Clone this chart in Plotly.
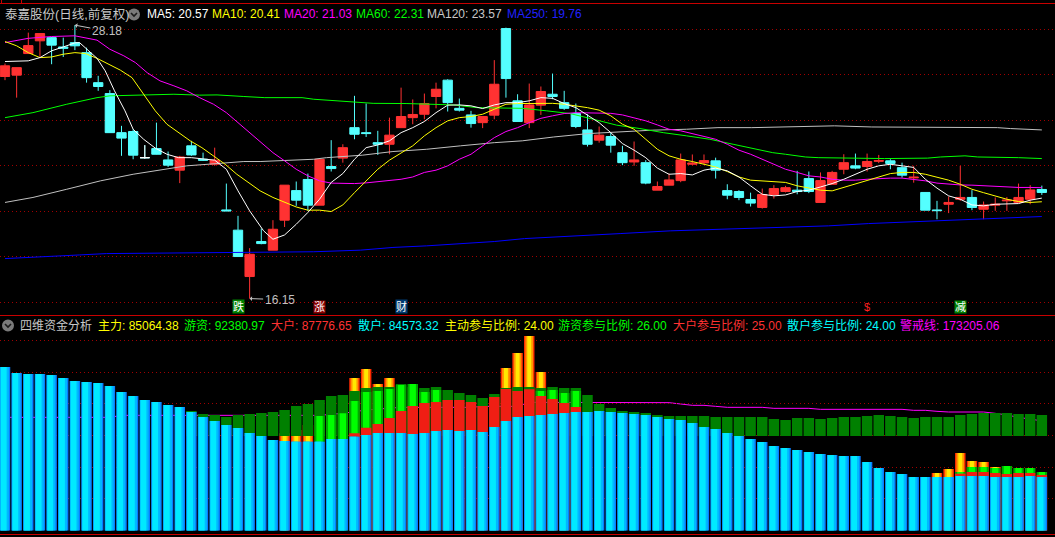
import plotly.graph_objects as go

W, H = 1055, 537

# ---------------- main chart data (price) ----------------
open_ = [25.92, 25.98, 26.93, 27.49, 27.63, 27.22, 27.41, 26.97, 25.65, 25.17,
         23.45, 23.50, 22.35, 22.75, 22.25, 21.80, 22.87, 22.28, 22.06, 20.05,
         19.16, 17.12, 18.66, 18.28, 19.60, 20.90, 21.39, 20.26, 21.96, 22.33,
         23.67, 23.45, 23.01, 22.94, 23.67, 24.11, 24.26, 25.04, 25.76, 24.52,
         24.23, 23.89, 24.22, 28.03, 24.85, 23.89, 24.66, 25.14, 24.77, 24.29,
         23.57, 23.12, 23.28, 22.57, 22.16, 22.13, 20.92, 21.14, 21.34, 22.06,
         22.12, 22.21, 20.90, 20.86, 20.51, 20.16, 20.73, 20.86, 20.92, 21.43,
         20.38, 21.18, 21.84, 21.99, 21.96, 22.19, 22.21, 21.91, 21.46, 20.82,
         20.05, 20.30, 20.52, 20.60, 20.08, 20.26, 20.45, 20.38, 20.52, 20.95]
close = [26.39, 26.31, 27.28, 27.81, 27.30, 27.16, 27.27, 25.87, 25.48, 23.45,
         23.21, 22.46, 22.35, 22.50, 22.02, 22.38, 22.47, 22.24, 22.24, 20.01,
         18.00, 18.10, 18.57, 19.20, 21.14, 20.48, 20.26, 22.28, 21.87, 22.79,
         23.38, 23.41, 22.94, 23.34, 24.16, 24.25, 24.73, 25.36, 24.77, 24.44,
         23.85, 24.16, 25.58, 25.83, 23.94, 24.67, 25.26, 25.04, 24.52, 23.72,
         22.94, 23.34, 22.90, 22.13, 22.25, 21.23, 21.08, 21.37, 22.25, 22.11,
         22.22, 21.80, 20.70, 20.60, 20.35, 20.73, 20.99, 21.03, 20.86, 20.86,
         21.34, 21.70, 22.13, 21.89, 22.18, 22.22, 22.09, 21.58, 21.49, 20.04,
         20.02, 20.38, 20.60, 20.16, 20.27, 20.30, 20.48, 20.60, 20.93, 20.82]
high = [26.49, 26.31, 27.85, 27.81, 27.66, 27.63, 28.18, 27.19, 25.95, 25.32,
        23.75, 23.60, 22.90, 23.89, 22.62, 22.43, 23.09, 22.57, 22.79, 21.21,
        19.79, 18.37, 19.23, 19.60, 21.14, 21.30, 21.65, 22.28, 23.12, 22.94,
        25.07, 24.73, 23.53, 24.11, 25.43, 24.91, 25.17, 25.65, 25.80, 24.95,
        24.41, 24.16, 26.64, 28.07, 25.14, 25.61, 25.48, 26.05, 25.29, 24.73,
        24.26, 23.72, 23.45, 22.87, 23.06, 22.24, 21.30, 21.65, 22.53, 22.49,
        22.49, 22.35, 21.18, 20.92, 20.81, 20.99, 21.14, 21.11, 21.77, 21.74,
        21.70, 21.77, 22.50, 22.53, 22.53, 22.47, 22.28, 22.13, 21.99, 20.82,
        20.45, 20.64, 21.99, 20.92, 20.42, 20.60, 20.62, 21.21, 21.14, 21.12]
low = [25.76, 24.99, 26.93, 26.78, 26.46, 26.78, 27.08, 25.65, 25.29, 23.44,
       22.43, 22.28, 22.31, 22.49, 21.94, 21.23, 22.43, 22.21, 21.99, 20.00,
       18.00, 16.15, 18.54, 18.28, 19.30, 20.23, 20.01, 20.26, 21.74, 22.13,
       23.16, 23.26, 22.47, 22.50, 23.67, 23.82, 24.04, 24.52, 24.38, 24.38,
       23.67, 23.65, 24.04, 24.99, 23.94, 23.65, 24.23, 24.92, 24.45, 23.65,
       22.84, 23.01, 22.57, 22.02, 21.99, 21.18, 20.92, 21.14, 21.27, 22.02,
       22.05, 21.43, 20.52, 20.48, 20.20, 20.11, 20.55, 20.82, 20.74, 20.79,
       20.38, 21.18, 21.62, 21.84, 21.74, 22.11, 21.84, 21.47, 21.25, 20.04,
       19.64, 19.91, 20.45, 20.04, 19.64, 20.01, 20.01, 20.38, 20.30, 20.71]
doji_white = [12]

# moving averages: (bar position, value)
ma5_x = [0, 2, 3, 4, 5, 6, 6.4, 7.2, 7.9, 8.6, 9.4, 10.3, 11, 11.9, 12.9, 13.9, 14.9, 16, 17, 18,
         19, 20, 21, 22.2, 23, 24, 25, 26, 27, 28, 29, 30, 31, 32, 33, 34, 35, 36, 37, 38, 39,
         40, 41, 42, 43, 44, 45, 46, 47, 48, 49, 50, 51, 52, 53, 54, 55, 56, 57, 58, 59, 60,
         61, 62, 63, 64, 65, 66, 67, 68, 69, 70, 71, 72, 73, 74, 75, 76, 77, 78, 79, 80, 81,
         82, 83, 84, 85, 86, 87, 88, 89]
ma5_y = [26.58, 26.61, 26.75, 27.05, 27.22, 27.40, 27.41, 27.05, 26.72, 26.17, 25.29, 24.41,
         23.60, 23.16, 22.77, 22.50, 22.35, 22.35, 22.28, 22.24, 21.84, 20.89, 20.01, 19.13,
         18.76, 18.95, 19.42, 19.94, 20.52, 21.26, 21.65, 22.28, 22.79, 22.91, 23.09, 23.45,
         23.67, 23.94, 24.33, 24.66, 24.67, 24.63, 24.51, 24.67, 24.77, 24.77, 24.85, 24.99,
         24.96, 24.73, 24.55, 24.23, 23.89, 23.45, 22.97, 22.68, 22.35, 21.89, 21.62, 21.65,
         21.59, 21.80, 21.89, 21.77, 21.50, 21.11, 20.74, 20.67, 20.71, 20.86, 20.92, 21.06,
         21.21, 21.40, 21.62, 21.84, 21.99, 22.06, 21.99, 21.92, 21.40, 21.01, 20.67, 20.52,
         20.27, 20.23, 20.30, 20.33, 20.33, 20.48, 20.57]
ma10_x = [0, 1, 2, 3, 4, 5, 6, 6.9, 7.9, 8.9, 9.9, 10.9, 11.9, 12.9, 13.9, 14.9, 15.9, 16.9,
          17.9, 18.9, 19.9, 20.9, 21.9] + list(range(23, 90))
ma10_y = [27.46, 27.27, 26.97, 26.75, 26.78, 26.90, 26.97, 26.93, 26.72, 26.46, 26.20, 25.87,
          25.14, 24.41, 23.82, 23.45, 23.09, 22.79, 22.43, 22.06, 21.62, 21.26, 20.89,
          20.60, 20.38, 20.18, 20.04, 20.04, 19.98, 20.27, 20.81, 21.33, 21.84, 22.24, 22.57,
          22.87, 23.31, 23.67, 23.97, 24.11, 24.16, 24.26, 24.48, 24.70, 24.73, 24.73, 24.74,
          24.74, 24.70, 24.63, 24.55, 24.44, 24.19, 23.82, 23.60, 23.16, 22.72, 22.43, 22.28,
          22.18, 22.06, 21.94, 21.74, 21.50, 21.36, 21.33, 21.30, 21.26, 21.11, 21.01, 20.92,
          20.89, 21.04, 21.18, 21.36, 21.50, 21.65, 21.70, 21.70, 21.62, 21.50, 21.36, 21.18,
          20.96, 20.81, 20.67, 20.52, 20.42, 20.38, 20.41]
ma20_x = [0, 2, 4, 6, 7.9, 9, 10.2, 11.2, 12.2, 13.3, 14.5, 15.6, 16.7, 17.9, 19, 20, 21, 22.2] \
    + list(range(23, 90))
ma20_y = [27.41, 27.60, 27.68, 27.71, 27.52, 27.12, 26.83, 26.53, 26.09, 25.73, 25.51, 25.29,
          24.99, 24.70, 24.33, 23.89, 23.45, 22.94,
          22.57, 22.21, 21.84, 21.55, 21.33, 21.23, 21.21, 21.21, 21.24, 21.30, 21.33, 21.40,
          21.50, 21.70, 21.80, 21.99, 22.28, 22.50, 22.87, 23.23, 23.50, 23.67, 23.89, 24.08,
          24.19, 24.29, 24.33, 24.33, 24.32, 24.30, 24.23, 24.11, 23.97, 23.79, 23.60, 23.53,
          23.41, 23.31, 23.16, 22.94, 22.68, 22.50, 22.28, 22.09, 21.84, 21.70, 21.55, 21.50,
          21.40, 21.36, 21.36, 21.40, 21.43, 21.45, 21.45, 21.40, 21.33, 21.23, 21.18, 21.15,
          21.14, 21.11, 21.08, 21.06, 21.04, 21.04, 21.03]
ma60_x = [0, 2.4, 5.3, 7.9, 9, 12.2, 14.5, 16.7, 18.2, 20.5, 22.3, 25.5, 26.5, 28.5, 29.9, 31.6,
          34.5, 36.8, 38.5, 40.5, 42.5, 44.4, 46.5, 48.5, 50.5, 52.5, 54.5, 56.5, 58.5, 60.5,
          62.5, 64.5, 65.9, 67, 68.7, 69.8, 72.7, 75.5, 79.2, 80.3, 82.4, 83.5, 87, 89]
ma60_y = [24.11, 24.33, 24.70, 24.99, 25.07, 25.11, 25.14, 25.10, 25.11, 25.04, 24.99, 24.99,
          24.92, 24.85, 24.80, 24.74, 24.73, 24.70, 24.67, 24.55, 24.55, 24.52, 24.41, 24.29,
          24.04, 23.78, 23.63, 23.45, 23.31, 23.16, 22.94, 22.72, 22.57, 22.50, 22.38, 22.35,
          22.33, 22.31, 22.33, 22.38, 22.43, 22.38, 22.35, 22.31]
ma120_x = [0, 2.4, 5.3, 8.2, 11, 13.9, 15.6, 18.2, 20.5, 21.9, 26.5, 27.6, 30.7, 33.3, 36.2,
           39.1, 42, 44.4, 47.1, 50.1, 52.8, 55.6, 58.5, 61.2, 64.1, 67, 71.2, 74.4, 78.4, 85.2,
           86.3, 88.1, 89]
ma120_y = [20.38, 20.60, 20.96, 21.33, 21.62, 21.84, 21.99, 22.09, 22.18, 22.18, 22.28, 22.35,
           22.46, 22.62, 22.72, 22.87, 23.01, 23.09, 23.26, 23.41, 23.50, 23.56, 23.60, 23.67,
           23.67, 23.70, 23.75, 23.70, 23.70, 23.67, 23.63, 23.60, 23.57]
ma250_x = [0, 2.4, 6.4, 8.7, 15, 22.3, 26.5, 30.5, 33.3, 36.2, 39.1, 42, 44.6, 48.5, 52.8, 57.1,
           60, 64.2, 67, 70.7, 74.1, 78.4, 81.2, 84.7, 87, 89]
ma250_y = [17.91, 17.96, 18.07, 18.13, 18.15, 18.18, 18.21, 18.28, 18.40, 18.47, 18.57, 18.66,
           18.79, 18.91, 19.01, 19.13, 19.17, 19.23, 19.28, 19.35, 19.45, 19.54, 19.61, 19.67,
           19.74, 19.76]

# ---------------- sub chart data (四维资金分析) ----------------
N0 = None
sanhu = [258330, 248850, 247270, 247270, 245690, 240950, 236210, 234630, 233050, 228310,
         218830, 212510, 206190, 203030, 198290, 195130, 187230, 179330, 173010, 166690,
         161950, 154050, 149310, 142990, 141410, 140360, 140360, 140360, 144570, 144570,
         148260, 150890, 154050, 154050, 154050, 152470, 154050, 157210, 158790, 157210,
         158790, 155630, 163530, 173010, 179330, 180910, 182490, 184070, 185650, 187230,
         187230, 188810, 187230, 185650, 184070, 182490, 179330, 176170, 174590, 169850,
         163530, 160370, 154050, 149310, 144570, 139830, 133510, 130350, 127190, 124030,
         120870, 119290, 117710, 117710, 108230, 98750, 92430, 89270, 84530, 84530,
         84530, 84530, 86110, 86110, 86110, 84530, 84530, 84530, 86110, 84573.32]
dark_base = 149310
dark_top = [N0] * 16 + [
    188810, 184070, 182490, 179330, 182490, 184070, 185650, 187230, 190390, 196710,
    199870, 206190, 212510, 214090, 220410, 225150, 226730, 226730, 231470, 226730,
    225150, 226730, 221990, 217250, 214090, 209350, 215670, 225150, 226730, 226730,
    225150, 226730, 225150, 225150, 214090, 199870, 193550, 188810, 187230, 185650,
    182490, 180910, 180910, 180910, 180910, 179330, 179330, 179330, 179330, 179330,
    176170, 174590, 177750, 177750, 176170, 177750, 179330, 179330, 180910, 182490,
    180910, 179330, 177750, 179330, 179330, 179330, 182490, 184070, 185650, 185650,
    185650, 184070, 184070, 182490]
youzi = [N0] * 90
for k, v in {27: 180910, 28: 182490, 29: 185120, 30: 204610, 31: 218830, 32: 220410,
             33: 223570, 34: 229890, 35: 231470, 36: 218830, 37: 221990, 46: 220410,
             47: 221990, 48: 217250, 49: 220410, 82: 92430, 83: 100330, 84: 100330,
             85: 98750, 86: 101910, 87: 98750, 88: 98750, 89: 92380.97}.items():
    youzi[k] = v
dahu = [N0] * 90
for k, v in {30: 153520, 31: 162480, 32: 168270, 33: 177750, 34: 188810, 35: 196710,
             36: 201450, 37: 203030, 38: 206190, 39: 206190, 40: 203030, 41: 196710,
             42: 210930, 43: 223570, 44: 220410, 45: 223040, 46: 212510, 47: 207770,
             48: 201450, 49: 195130, 82: 89800, 83: 92430, 84: 92430, 85: 90850,
             86: 89270, 87: 90850, 88: 90850, 89: 87776.65}.items():
    dahu[k] = v
zhuli = [N0] * 90
for k, v in {24: 153520, 25: 158790, 26: 166690, 30: 240950, 31: 255170, 32: 231470,
             33: 240950, 43: 256750, 44: 280450, 45: 307310, 46: 250430, 80: 90850,
             81: 97170, 82: 122450, 83: 109810, 84: 108230, 85: 100330, 89: 85064.38}.items():
    zhuli[k] = v
warn_x = [0, 9, 10, 27, 29, 31, 34, 40, 41, 44, 45, 57, 58, 59, 60, 61, 62, 65, 66, 69, 70,
          77, 78, 79, 80, 81, 84, 85, 86, 87, 88, 89]
warn_v = [178800, 178800, 181960, 181960, 185120, 190390, 194600, 194600, 196180, 196180,
          202500, 201980, 199870, 197770, 197770, 196180, 194600, 194600, 193020, 193020,
          191440, 191440, 189860, 189860, 188280, 187230, 187230, 185120, 182490, 178800,
          176000, 173205.06]

title_main = "泰嘉股份(日线,前复权)"
ma_labels = [("MA5: 20.57", "#ffffff", 145), ("MA10: 20.41", "#ffff00", 210),
             ("MA20: 21.03", "#ff00ff", 282), ("MA60: 22.31", "#00ff00", 354),
             ("MA120: 23.57", "#c8c8c8", 425), ("MA250: 19.76", "#2020ff", 505)]
sub_title = "四维资金分析"
sub_labels = [("主力: 85064.38", "#ffff00", 96), ("游资: 92380.97", "#00ff00", 182),
              ("大户: 87776.65", "#ff3232", 269), ("散户: 84573.32", "#00ffff", 356),
              ("主动参与比例: 24.00", "#ffff00", 443), ("游资参与比例: 26.00", "#00ff00", 556),
              ("大户参与比例: 25.00", "#ff3232", 671), ("散户参与比例: 24.00", "#00ffff", 785),
              ("警戒线: 173205.06", "#ff00ff", 898)]
signals = [(20, "跌", "#ffffff", "#008000"), (27, "涨", "#ffffff", "#8b0000"),
           (34, "财", "#ffffff", "#003a70"), (74, "$", "#ff2020", None),
           (82, "减", "#ffffff", "#008000")]

# ---------------- build figure ----------------
RED = "#ff3232"
CYAN = "#54ffff"
FONT = "Liberation Sans, Noto Sans CJK SC, sans-serif"


def px(x):
    return x / W


def py(y):
    return 1 - y / H


N = len(open_)
idx = list(range(N))
fig = go.Figure()


def add_layers(vals, layers, base=0):
    for color, off, wd in layers:
        fig.add_trace(go.Bar(x=idx, y=vals, base=base, offset=off, width=wd,
                             marker=dict(color=color, line=dict(width=0)),
                             xaxis="x", yaxis="y2", hoverinfo="skip"))


add_layers(zhuli, [("#ff2a00", -0.45, 0.9), ("#ff9600", -0.33, 0.66), ("#ffe800", -0.17, 0.34)])
add_layers([None if t is None else t - dark_base for t in dark_top],
           [("#008000", -0.45, 0.9)], base=dark_base)
add_layers(youzi, [("#00a800", -0.45, 0.9), ("#00ff00", -0.27, 0.54)])
add_layers(dahu, [("#f01e14", -0.45, 0.9)])
add_layers(sanhu, [("#0a7cff", -0.45, 0.9), ("#00b8ff", -0.41, 0.74), ("#00eaff", -0.36, 0.5)])

fig.add_trace(go.Candlestick(
    x=idx, open=open_, high=high, low=low, close=close, whiskerwidth=0,
    increasing=dict(line=dict(color=RED, width=1), fillcolor=RED),
    decreasing=dict(line=dict(color=CYAN, width=1), fillcolor=CYAN),
    xaxis="x", yaxis="y", hoverinfo="skip"))
fig.add_trace(go.Candlestick(
    x=doji_white, open=[open_[i] for i in doji_white], high=[high[i] for i in doji_white],
    low=[low[i] for i in doji_white], close=[close[i] for i in doji_white], whiskerwidth=0,
    increasing=dict(line=dict(color="#ffffff", width=1), fillcolor="#ffffff"),
    decreasing=dict(line=dict(color="#ffffff", width=1), fillcolor="#ffffff"),
    xaxis="x", yaxis="y", hoverinfo="skip"))

for xs, ys, col in [(ma250_x, ma250_y, "#0000ff"), (ma120_x, ma120_y, "#c0c0c0"),
                    (ma60_x, ma60_y, "#00ff00"), (ma20_x, ma20_y, "#ff00ff"),
                    (ma10_x, ma10_y, "#ffff00"), (ma5_x, ma5_y, "#ffffff")]:
    fig.add_trace(go.Scatter(x=xs, y=ys, mode="lines", line=dict(color=col, width=1),
                             xaxis="x", yaxis="y", hoverinfo="skip"))

shapes = []
shapes.append(dict(type="path", xref="x", yref="y2", layer="below",
                   path="M " + " L ".join(f"{x},{v}" for x, v in zip(warn_x, warn_v)),
                   line=dict(color="#ff00ff", width=1)))
for yy in (3.5, 315.5, 534.5):
    shapes.append(dict(type="line", xref="paper", yref="paper", x0=0, x1=1,
                       y0=py(yy), y1=py(yy), line=dict(color="#c80000", width=1)))
for xx in (1.5, 21.5):
    shapes.append(dict(type="line", xref="paper", yref="paper", x0=px(xx), x1=px(xx),
                       y0=py(0), y1=py(3.5), line=dict(color="#c80000", width=1)))
# gray round buttons with chevron
for cx, cy in ((134, 14.5), (8, 325.5)):
    shapes.append(dict(type="circle", xref="paper", yref="paper", x0=px(cx - 6), x1=px(cx + 6),
                       y0=py(cy + 6), y1=py(cy - 6), fillcolor="#7a7a7a", line=dict(width=0)))
    shapes.append(dict(type="path", xref="paper", yref="paper",
                       path=f"M {px(cx - 3)},{py(cy - 1.5)} L {px(cx)},{py(cy + 1.5)} "
                            f"L {px(cx + 3)},{py(cy - 1.5)}",
                       line=dict(color="#1a1a1a", width=1.6)))

ann = []
ann.append(dict(text=title_main, x=px(3), y=py(14.5), xref="paper", yref="paper",
                xanchor="left", yanchor="middle", showarrow=False,
                font=dict(family=FONT, size=12.5, color="#c8c8c8")))
for t, c, x0 in ma_labels:
    ann.append(dict(text=t, x=px(x0), y=py(14.5), xref="paper", yref="paper",
                    xanchor="left", yanchor="middle", showarrow=False,
                    font=dict(family=FONT, size=12, color=c)))
ann.append(dict(text=sub_title, x=px(18), y=py(325.5), xref="paper", yref="paper",
                xanchor="left", yanchor="middle", showarrow=False,
                font=dict(family=FONT, size=12, color="#c8c8c8")))
for t, c, x0 in sub_labels:
    ann.append(dict(text=t, x=px(x0), y=py(325.5), xref="paper", yref="paper",
                    xanchor="left", yanchor="middle", showarrow=False,
                    font=dict(family=FONT, size=12, color=c)))
for i, t, fc, bg in signals:
    d = dict(text=t, x=i, xref="x", y=py(306.5), yref="paper", xanchor="center",
             yanchor="middle", showarrow=False, font=dict(family=FONT, size=11, color=fc),
             borderpad=0)
    if bg:
        d["bgcolor"] = bg
    ann.append(d)
# highest / lowest markers
imax = high.index(max(high))
imin = low.index(min(low))
ann.append(dict(text=f"{high[imax]:.2f}", x=imax, y=high[imax], xref="x", yref="y",
                ax=32, ay=6, showarrow=True, arrowhead=1, arrowsize=0.8, arrowwidth=1,
                arrowcolor="#c0c0c0", font=dict(family=FONT, size=12, color="#c0c0c0"),
                xanchor="center"))
ann.append(dict(text=f"{low[imin]:.2f}", x=imin, y=low[imin], xref="x", yref="y",
                ax=30, ay=1, showarrow=True, arrowhead=1, arrowsize=0.8, arrowwidth=1,
                arrowcolor="#c0c0c0", font=dict(family=FONT, size=12, color="#c0c0c0"),
                xanchor="center"))

GRID = "#a00000"
DOTS = "1px,3px"
fig.update_layout(
    width=W, height=H, margin=dict(l=0, r=0, t=0, b=0),
    paper_bgcolor="#000000", plot_bgcolor="#000000",
    showlegend=False, hovermode=False, barmode="overlay",
    boxgap=0.2, boxgroupgap=0,
    shapes=shapes, annotations=ann,
    xaxis=dict(domain=[0, 1], range=[-0.429, 90.13], showgrid=False, zeroline=False,
               showticklabels=False, ticks="", showline=False,
               rangeslider=dict(visible=False), anchor="y"),
    yaxis=dict(domain=[py(312), py(14)], range=[15.56, 28.67], tickmode="array",
               tickvals=[16, 18, 20, 22, 24, 26, 28], showgrid=True, gridcolor=GRID,
               griddash=DOTS, gridwidth=1, zeroline=False, showticklabels=False,
               ticks="", anchor="x"),
    yaxis2=dict(domain=[py(531), py(333)], range=[-790, 312050], tickmode="array",
                tickvals=[50000, 100000, 150000, 200000, 250000, 300000], showgrid=True,
                gridcolor=GRID, griddash=DOTS, gridwidth=1, zeroline=False,
                showticklabels=False, ticks="", anchor="x"),
)

fig.write_html("out.html", config={"displayModeBar": False})
with open("out.html", encoding="utf-8") as f:
    page = f.read()
page = page.replace("<body>", '<body style="margin:0;padding:0;background:#000;overflow:hidden">', 1)
with open("out.html", "w", encoding="utf-8") as f:
    f.write(page)
